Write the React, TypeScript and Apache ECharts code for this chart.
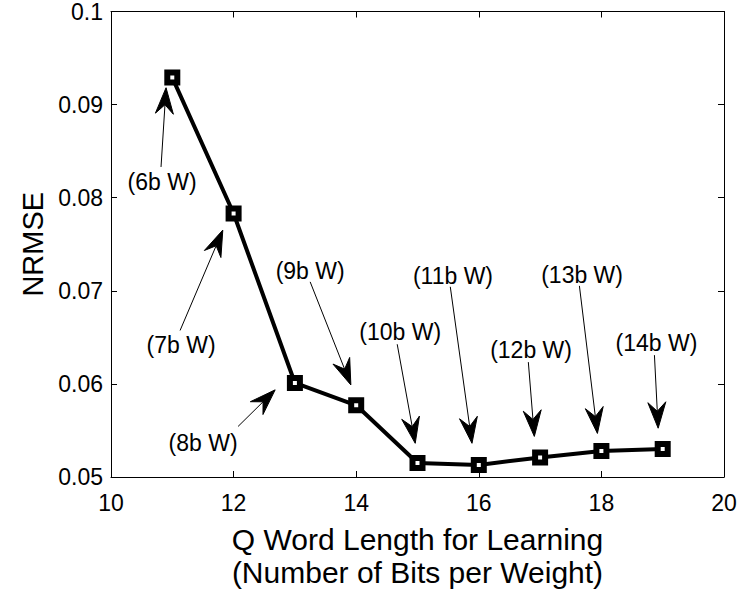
import React, { useEffect, useRef } from "react";
import * as echarts from "echarts";

// Word length (bits) and resulting error
const wordLengths = [11, 12, 13, 14, 15, 16, 17, 18, 19];
const nrmse = [0.0929, 0.0783, 0.0601, 0.0577, 0.0515, 0.0513, 0.0521, 0.0528, 0.053];

// Annotation texts and their placement in data coordinates: [text, tail, tip]
const noteLabels = ["(6b W)", "(7b W)", "(8b W)", "(9b W)", "(10b W)", "(11b W)", "(12b W)", "(13b W)", "(14b W)"];
const noteTextAt: [number, number][] = [
  [10.833, 0.0817], [11.143, 0.06415], [11.502, 0.05362], [13.249, 0.07213], [14.718, 0.06553],
  [15.579, 0.0716], [16.852, 0.06362], [17.685, 0.07173], [18.898, 0.06436],
];
const noteTail: [number, number][] = [
  [10.816, 0.0833], [11.127, 0.06574], [12.073, 0.05543], [13.249, 0.07096], [14.669, 0.06426],
  [15.535, 0.07043], [16.808, 0.06234], [17.641, 0.07053], [18.865, 0.06309],
];
const noteTip: [number, number][] = [
  [10.898, 0.09181], [11.824, 0.07652], [12.678, 0.05936], [13.913, 0.05989], [14.963, 0.05362],
  [15.889, 0.05362], [16.906, 0.05436], [17.935, 0.05468], [18.926, 0.05524],
];

const FONT = "'Liberation Sans', Arial, Helvetica, sans-serif";

export default function App() {
  const ref = useRef<HTMLDivElement>(null);

  useEffect(() => {
    if (!ref.current) return;
    const chart = echarts.init(ref.current, null, { renderer: "svg" });

    const yFmt = (v: number) => String(+v.toFixed(2));
    const axisLine = { show: true, lineStyle: { color: "#000", width: 1 } };
    const tick = { show: true, inside: true, length: 6, lineStyle: { color: "#000", width: 1 } };

    chart.setOption({
      animation: false,
      backgroundColor: "#fff",
      textStyle: { fontFamily: FONT },
      grid: { left: 111, right: 16, top: 11, bottom: 113, show: false },
      xAxis: [
        {
          type: "value",
          min: 10,
          max: 20,
          interval: 2,
          axisLine,
          axisTick: tick,
          splitLine: { show: false },
          axisLabel: { color: "#000", fontSize: 23, fontFamily: FONT, margin: 14 },
          name: "Q Word Length for Learning\n(Number of Bits per Weight)",
          nameLocation: "middle",
          nameGap: 46,
          nameTextStyle: { color: "#000", fontSize: 30, lineHeight: 33, fontFamily: FONT },
        },
        {
          type: "value",
          position: "top",
          min: 10,
          max: 20,
          interval: 2,
          axisLine,
          axisTick: tick,
          splitLine: { show: false },
          axisLabel: { show: false },
        },
      ],
      yAxis: [
        {
          type: "value",
          min: 0.05,
          max: 0.1,
          interval: 0.01,
          axisLine,
          axisTick: tick,
          splitLine: { show: false },
          axisLabel: { color: "#000", fontSize: 23, fontFamily: FONT, margin: 8, formatter: yFmt },
          name: "NRMSE",
          nameLocation: "middle",
          nameRotate: 90,
          nameGap: 60,
          nameTextStyle: { color: "#000", fontSize: 29, fontFamily: FONT },
        },
        {
          type: "value",
          position: "right",
          min: 0.05,
          max: 0.1,
          interval: 0.01,
          axisLine,
          axisTick: tick,
          splitLine: { show: false },
          axisLabel: { show: false },
        },
      ],
      series: [
        {
          type: "line",
          data: wordLengths.map((x, i) => [x, nrmse[i]]),
          lineStyle: { color: "#000", width: 4 },
          symbol: "rect",
          symbolSize: 10,
          itemStyle: { color: "#fff", borderColor: "#000", borderWidth: 6 },
          z: 3,
        },
      ],
    });

    // Annotation arrows with notched heads
    const px = (p: [number, number]) => chart.convertToPixel({ gridIndex: 0 }, p) as number[];
    const elements: any[] = [];
    const L = 26;
    const W = 18;
    const notch = 9;
    noteLabels.forEach((label, i) => {
      const t = px(noteTextAt[i]);
      const a = px(noteTail[i]);
      const b = px(noteTip[i]);
      const dx = b[0] - a[0];
      const dy = b[1] - a[1];
      const len = Math.hypot(dx, dy);
      const ux = dx / len;
      const uy = dy / len;
      const nx = -uy;
      const ny = ux;
      const back = [b[0] - L * ux, b[1] - L * uy];
      const mid = [b[0] - (L - notch) * ux, b[1] - (L - notch) * uy];
      elements.push({
        type: "polyline",
        shape: { points: [a, mid] },
        style: { stroke: "#000", lineWidth: 1, fill: null },
        silent: true,
      });
      elements.push({
        type: "polygon",
        shape: {
          points: [
            b,
            [back[0] + (W / 2) * nx, back[1] + (W / 2) * ny],
            mid,
            [back[0] - (W / 2) * nx, back[1] - (W / 2) * ny],
          ],
        },
        style: { fill: "#000", stroke: "#000", lineWidth: 1 },
        silent: true,
      });
      elements.push({
        type: "text",
        x: t[0],
        y: t[1],
        style: {
          text: label,
          fill: "#000",
          font: `23px ${FONT}`,
          align: "center",
          verticalAlign: "middle",
        },
        silent: true,
      });
    });
    chart.setOption({ graphic: elements });

    return () => chart.dispose();
  }, []);

  return (
    <div
      ref={ref}
      style={{ position: "fixed", left: 0, top: 0, width: 740, height: 594, background: "#fff" }}
    />
  );
}
